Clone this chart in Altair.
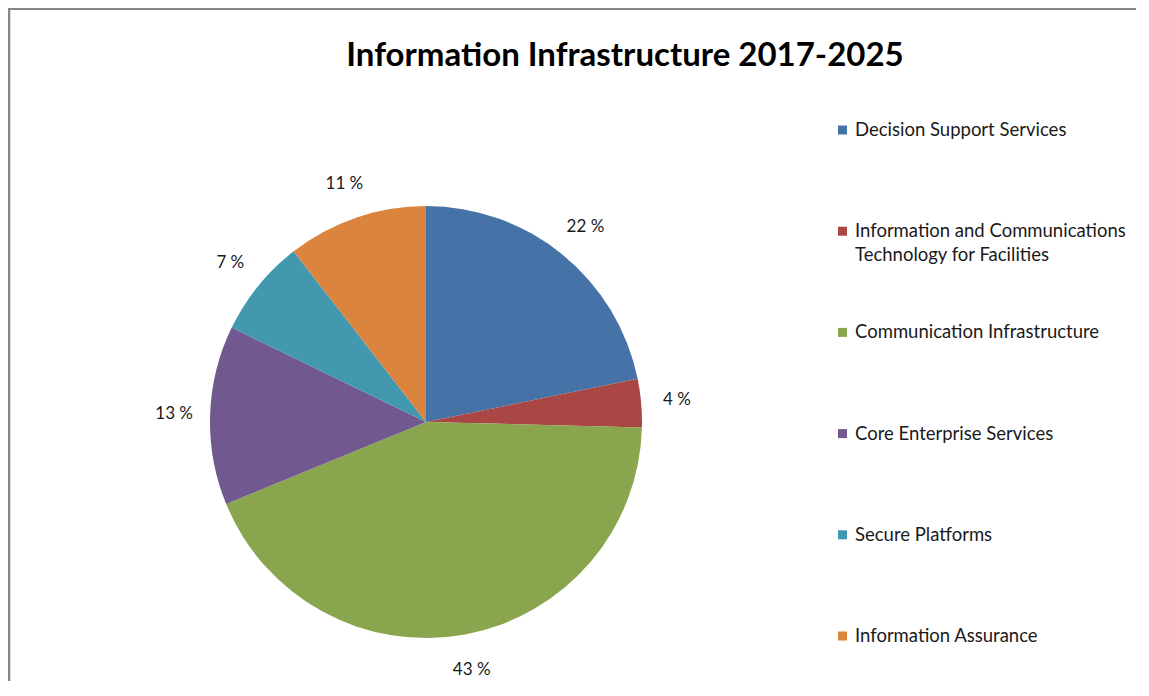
import altair as alt
import pandas as pd

categories = [
    "Decision Support Services",
    "Information and Communications Technology for Facilities",
    "Communication Infrastructure",
    "Core  Enterprise Services",
    "Secure Platforms",
    "Information Assurance",
]
legend_labels = [
    "Decision Support Services",
    "Information and Communications\nTechnology for Facilities",
    "Communication Infrastructure",
    "Core  Enterprise Services",
    "Secure Platforms",
    "Information Assurance",
]
shares = [21.8, 3.6, 43.4, 13.4, 7.3, 10.5]
pct_labels = ["22 %", "4 %", "43 %", "13 %", "7 %", "11 %"]
colors = ["#4572A7", "#AA4643", "#89A54E", "#71588F", "#4198AF", "#DB843D"]
title_text = "Information Infrastructure 2017-2025"

df = pd.DataFrame({
    "cat": categories,
    "legend": legend_labels,
    "share": shares,
    "pct": pct_labels,
    "order": list(range(len(categories))),
})

FONT = "Lato"
W, H = 1126, 672
CX, CY, R = 416, 413, 216

color = alt.Color("cat:N", scale=alt.Scale(domain=categories, range=colors), legend=None)

base = alt.Chart(df)

pie = base.mark_arc(radius=R, strokeWidth=0).encode(
    theta=alt.Theta("share:Q", stack=True),
    order=alt.Order("order:Q"),
    color=color,
    x=alt.value(CX),
    y=alt.value(CY),
)

labels = base.mark_text(radius=252, font=FONT, fontSize=17, color="#1a1a1a", align="center", baseline="middle").encode(
    theta=alt.Theta("share:Q", stack=True),
    order=alt.Order("order:Q"),
    text="pct:N",
    x=alt.value(CX),
    y=alt.value(CY),
)

yleg = alt.Y("cat:N", sort=categories,
             scale=alt.Scale(type="point", domain=categories, range=[121, 627], padding=0),
             axis=None)

leg_sym = base.mark_square(size=81, opacity=1).encode(
    x=alt.value(832.5),
    y=yleg,
    color=color,
)

leg_txt = base.mark_text(font=FONT, fontSize=18.5, align="left", baseline="alphabetic", dy=6, lineBreak="\n", lineHeight=24, color="#1a1a1a").encode(
    x=alt.value(845),
    y=yleg,
    text="legend:N",
)

title = alt.Chart(pd.DataFrame({"t": [title_text]})).mark_text(
    font=FONT, fontSize=33, fontWeight="bold", align="center", baseline="alphabetic", color="#000000"
).encode(x=alt.value(615), y=alt.value(57), text="t:N")

border_top = alt.Chart(pd.DataFrame({"a": [0]})).mark_rule(color="#888888", strokeWidth=2).encode(
    x=alt.value(-2), x2=alt.value(W), y=alt.value(0)
)
border_left = alt.Chart(pd.DataFrame({"a": [0]})).mark_rule(color="#888888", strokeWidth=2).encode(
    x=alt.value(-1), y=alt.value(-1), y2=alt.value(H)
)

chart = alt.layer(border_top, border_left, pie, labels, leg_sym, leg_txt, title).properties(
    width=W, height=H,
    padding={"left": 2, "top": 1, "right": 0, "bottom": 0},
    autosize=alt.AutoSizeParams(type="none"),
).configure_view(strokeWidth=0, stroke="transparent").configure(background="white")

chart.save("out.html", embed_options={"renderer": "svg", "actions": False})
